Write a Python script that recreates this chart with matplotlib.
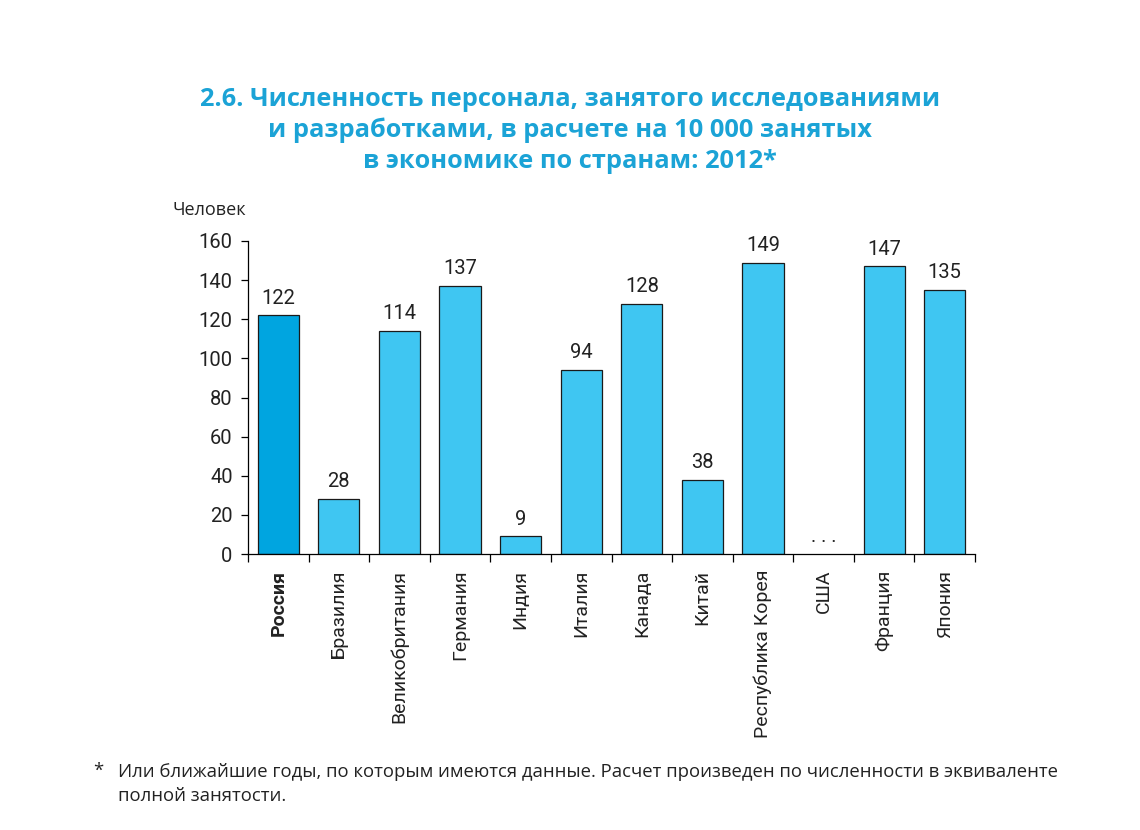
import matplotlib.pyplot as plt
from matplotlib import font_manager

countries = ["Россия", "Бразилия", "Великобритания", "Германия", "Индия", "Италия",
             "Канада", "Китай", "Республика Корея", "США", "Франция", "Япония"]
values = [122, 28, 114, 137, 9, 94, 128, 38, 149, None, 147, 135]
y_ticks = [0, 20, 40, 60, 80, 100, 120, 140, 160]

installed = {f.name for f in font_manager.fontManager.ttflist}
narrow = "Liberation Sans Narrow" if "Liberation Sans Narrow" in installed else "Roboto"

fig = plt.figure(figsize=(11.4, 8.3), dpi=100)
ax = fig.add_axes([248 / 1140, 1 - 554 / 830, 727 / 1140, 313 / 830])

for i, v in enumerate(values):
    if v is None:
        # no data for this country
        ax.text(i, 4, ". . .", ha="center", va="bottom", fontsize=14,
                family=narrow, color="#222222")
        continue
    color = "#00A5E0" if i == 0 else "#3FC6F2"
    ax.bar(i, v, width=0.68, color=color, edgecolor="#1a1a1a", linewidth=0.9, zorder=2)
    ax.text(i, v + 4, str(v), ha="center", va="bottom", fontsize=14.5,
            family=narrow, color="#222222", clip_on=False)

ax.set_xlim(-0.5, len(countries) - 0.5)
ax.set_ylim(0, 160)
ax.set_yticks(y_ticks)
ax.set_yticklabels([str(t) for t in y_ticks], family=narrow, fontsize=14.5, color="#222222")
ax.tick_params(axis="y", length=5, width=0.9, pad=6)

# ticks sit between categories, names are drawn at the bar centres
ax.set_xticks([i - 0.5 for i in range(len(countries) + 1)])
ax.set_xticklabels([])
ax.tick_params(axis="x", length=6, width=0.9)
for i, name in enumerate(countries):
    ax.text(i, -8, name, rotation=90, ha="center", va="top", fontsize=14,
            family=narrow, color="#222222", fontweight="bold" if i == 0 else "normal",
            transform=ax.transData, clip_on=False)

for side in ["top", "right"]:
    ax.spines[side].set_visible(False)
ax.spines["left"].set_linewidth(0.9)
ax.spines["bottom"].set_linewidth(0.9)

fig.text(172 / 1140, 1 - 210 / 830, "Человек", fontsize=13, family="Open Sans",
         color="#222222", va="center", ha="left")

title = ("2.6. Численность персонала, занятого исследованиями\n"
         "и разработками, в расчете на 10 000 занятых\n"
         "в экономике по странам: 2012*")
fig.text(570 / 1140, 1 - 87 / 830, title, ha="center", va="top", fontsize=18.3,
         fontweight="bold", family="Open Sans", color="#1BA3D6", linespacing=1.3)

fig.text(93 / 1140, 1 - 771 / 830, "*", fontsize=13.3, family="Open Sans",
         color="#222222", va="center")
fig.text(118 / 1140, 1 - 784 / 830,
         "Или ближайшие годы, по которым имеются данные. Расчет произведен по численности в эквиваленте\n"
         "полной занятости.",
         fontsize=13.3, family="Open Sans", color="#222222", va="center", linespacing=1.4)

fig.savefig("out.png", dpi=100)
